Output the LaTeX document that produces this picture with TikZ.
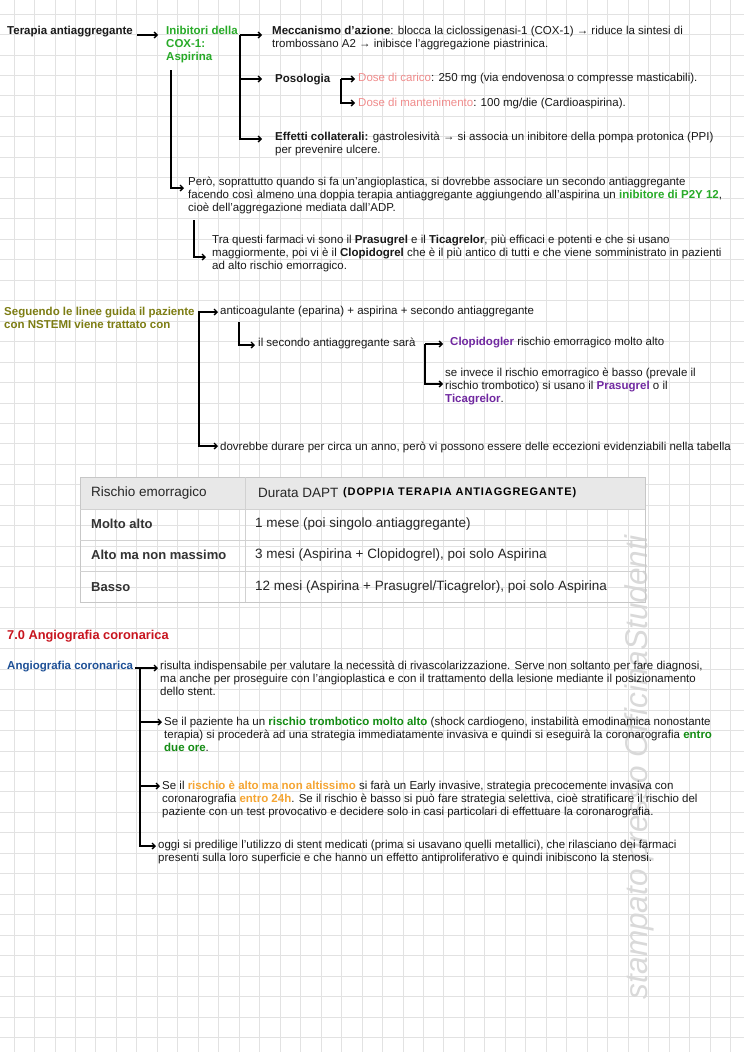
\documentclass[tikz,border=0pt]{standalone}
\usepackage{fontspec}
\setmainfont{Liberation Sans}
\usetikzlibrary{arrows.meta,positioning,calc}

\definecolor{verde}{RGB}{40,170,40}
\definecolor{verdescuro}{RGB}{20,140,20}
\definecolor{rosa}{RGB}{240,140,140}
\definecolor{viola}{RGB}{112,40,160}
\definecolor{oliva}{RGB}{125,125,20}
\definecolor{rosso}{RGB}{200,20,30}
\definecolor{blu}{RGB}{30,80,150}
\definecolor{arancio}{RGB}{245,165,50}
\definecolor{griglia}{RGB}{226,226,226}

\begin{document}
\begin{tikzpicture}[
    x=1pt, y=-1pt,
    font=\fontsize{11.5}{13}\selectfont,
    >={Straight Barb[length=3pt,width=6pt]},
    txt/.style={anchor=north west, inner sep=0pt, align=left, text=black!90},
    tit/.style={txt, font=\fontsize{11.5}{13}\selectfont\bfseries},
    arr/.style={line width=1.3pt, ->},
    linea/.style={line width=1.3pt},
    cella/.style={anchor=west, inner sep=0pt, font=\fontsize{13.5}{16}\selectfont, text=black!85},
    rischio/.style={cella, font=\fontsize{13}{16}\selectfont\bfseries, text=black!80}
]
\useasboundingbox (0,0) rectangle (744,1052);
\fill[white] (0,0) rectangle (744,1052);
% quaderno a quadretti
\foreach \i in {0,...,35}
    \draw[griglia, line width=0.8pt] ({14+20.47*\i},0) -- ({14+20.47*\i},1052);
\foreach \j in {0,...,50}
    \draw[griglia, line width=0.8pt] (0,{14+20.47*\j}) -- (744,{14+20.47*\j});

\node[rotate=90, text=black!15, font=\fontsize{31.5}{32}\selectfont\itshape] (filigrana) at (639,767) {stampato presso OfficinaStudenti};

% terapia antiaggregante
\node[tit] (terap) at (7,25) {\strut Terapia antiaggregante};
\node[tit, text=verde] (inib) at (166,25) {\strut Inibitori della\\ COX-1:\\ Aspirina};
\node[txt] (mecc) at (272,25) {\strut\textbf{Meccanismo d’azione}: blocca la ciclossigenasi-1 (COX-1) → riduce la sintesi di\\ trombossano A2 → inibisce l’aggregazione piastrinica.};
\node[tit] (poso) at (275,73) {\strut Posologia};
\node[txt] (carico) at (358,72) {\strut\textcolor{rosa}{Dose di carico}: 250 mg (via endovenosa o compresse masticabili).};
\node[txt] (mant) at (358,97) {\strut\textcolor{rosa}{Dose di mantenimento}: 100 mg/die (Cardioaspirina).};
\node[txt] (eff) at (275,131) {\strut\textbf{Effetti collaterali:} gastrolesività → si associa un inibitore della pompa protonica (PPI)\\ per prevenire ulcere.};
\node[txt] (pero) at (188,176) {\strut Però, soprattutto quando si fa un’angioplastica, si dovrebbe associare un secondo antiaggregante\\ facendo così almeno una doppia terapia antiaggregante aggiungendo all’aspirina un \textcolor{verde}{\textbf{inibitore di P2Y 12}},\\ cioè dell’aggregazione mediata dall’ADP.};
\node[txt] (tra) at (212,234) {\strut Tra questi farmaci vi sono il \textbf{Prasugrel} e il \textbf{Ticagrelor}, più efficaci e potenti e che si usano\\ maggiormente, poi vi è il \textbf{Clopidogrel} che è il più antico di tutti e che viene somministrato in pazienti\\ ad alto rischio emorragico.};

\coordinate (sp1) at (240,35);
\coordinate (sp2) at (341,79);
\coordinate (sp3) at (171,70);
\coordinate (sp4) at (194,220);
\coordinate (pmecc) at ($(mecc.north west)+(-10,10)$);
\coordinate (pposo) at ($(poso.north west)+(-13,6)$);
\coordinate (peff) at ($(eff.north west)+(-13,8)$);
\coordinate (pcar) at ($(carico.north west)+(-3,7)$);
\coordinate (pman) at ($(mant.north west)+(-3,6)$);
\coordinate (pper) at ($(pero.north west)+(-4,12)$);
\coordinate (ptra) at ($(tra.north west)+(-6,23)$);

\draw[arr] ($(terap.north east)+(4,10)$) -- ($(inib.north west)+(-8,10)$);
\draw[arr] (sp1) -- (pmecc);
\draw[arr] (sp1) |- (pposo);
\draw[arr] (sp1) |- (peff);
\draw[arr] (sp2) -- (pcar);
\draw[arr] (sp2) |- (pman);
\draw[arr] (sp3) |- (pper);
\draw[arr] (sp4) |- (ptra);

% NSTEMI
\node[tit, text=oliva] (segu) at (4,306) {\strut Seguendo le linee guida il paziente\\ con NSTEMI viene trattato con};
\node[txt] (anti) at (220,305) {\strut anticoagulante (eparina) + aspirina + secondo antiaggregante};
\node[txt] (sec) at (258,337) {\strut il secondo antiaggregante sarà};
\node[txt] (clop) at (450,336) {\strut\textcolor{viola}{\textbf{Clopidogler}} rischio emorragico molto alto};
\node[txt] (invece) at (445,367) {\strut se invece il rischio emorragico è basso (prevale il\\ rischio trombotico) si usano il \textcolor{viola}{\textbf{Prasugrel}} o il\\ \textcolor{viola}{\textbf{Ticagrelor}}.};
\node[txt] (dovr) at (220,441) {\strut dovrebbe durare per circa un anno, però vi possono essere delle eccezioni evidenziabili nella tabella};

\coordinate (sp5) at (199,312);
\coordinate (sp6) at (239,322);
\coordinate (sp7) at (425,344);
\coordinate (pant) at ($(anti.north west)+(-2,7)$);
\coordinate (pdov) at ($(dovr.north west)+(-2,5)$);
\coordinate (psec) at ($(sec.north west)+(-3,8)$);
\coordinate (pclo) at ($(clop.north west)+(-7,8)$);
\coordinate (pinv) at ($(invece.north west)+(-2,17)$);

\draw[linea] ($(segu.north east)+(3,6)$) -- (sp5);
\draw[arr] (sp5) -- (pant);
\draw[arr] (sp5) |- (pdov);
\draw[arr] (sp6) |- (psec);
\draw[arr] (sp7) -- (pclo);
\draw[arr] (sp7) |- (pinv);

% tabella DAPT
\fill[black!9] (80,477) rectangle (645,509);
\draw[black!22, line width=0.8pt] (80,477) rectangle (645,602);
\foreach \y in {509,540,571}
    \draw[black!18, line width=0.8pt] (80,\y) -- (645,\y);
\draw[black!18, line width=0.8pt] (245,477) -- (245,602);

\node[cella] (h1) at (91,493) {Rischio emorragico};
\node[cella] (h2) at (258,493) {Durata DAPT};
\node[anchor=west, inner sep=0pt, font=\fontsize{11}{13}\selectfont\bfseries\addfontfeature{LetterSpace=8}, text=black] (hw) at (343,493) {(DOPPIA TERAPIA ANTIAGGREGANTE)};
\node[rischio] (r1) at (91,524) {Molto alto};
\node[cella] (d1) at (255,524) {1 mese (poi singolo antiaggregante)};
\node[rischio] (r2) at (91,555) {Alto ma non massimo};
\node[cella] (d2) at (255,555) {3 mesi (Aspirina + Clopidogrel), poi solo Aspirina};
\node[rischio] (r3) at (91,587) {Basso};
\node[cella] (d3) at (255,587) {12 mesi (Aspirina + Prasugrel/Ticagrelor), poi solo Aspirina};

% angiografia
\node[txt, font=\fontsize{12.8}{14}\selectfont\bfseries, text=rosso] (h7) at (7,629) {\strut 7.0 Angiografia coronarica};
\node[tit, text=blu] (angio) at (7,660) {\strut Angiografia coronarica};
\node[txt] (risulta) at (160,660) {\strut risulta indispensabile per valutare la necessità di rivascolarizzazione. Serve non soltanto per fare diagnosi,\\ ma anche per proseguire con l’angioplastica e con il trattamento della lesione mediante il posizionamento\\ dello stent.};
\node[txt] (paz) at (164,716) {\strut Se il paziente ha un \textcolor{verdescuro}{\textbf{rischio trombotico molto alto}} (shock cardiogeno, instabilità emodinamica nonostante\\ terapia) si procederà ad una strategia immediatamente invasiva e quindi si eseguirà la coronarografia \textcolor{verdescuro}{\textbf{entro}}\\ \textcolor{verdescuro}{\textbf{due ore}}.};
\node[txt] (alto) at (162,780) {\strut Se il \textcolor{arancio}{\textbf{rischio è alto ma non altissimo}} si farà un Early invasive, strategia precocemente invasiva con\\ coronarografia \textcolor{arancio}{\textbf{entro 24h}}. Se il rischio è basso si può fare strategia selettiva, cioè stratificare il rischio del\\ paziente con un test provocativo e decidere solo in casi particolari di effettuare la coronarografia.};
\node[txt] (oggi) at (158,839) {\strut oggi si predilige l’utilizzo di stent medicati (prima si usavano quelli metallici), che rilasciano dei farmaci\\ presenti sulla loro superficie e che hanno un effetto antiproliferativo e quindi inibiscono la stenosi.};

\coordinate (sp8) at (140,668);
\coordinate (pris) at ($(risulta.north west)+(-2,8)$);
\coordinate (ppaz) at ($(paz.north west)+(-2,6)$);
\coordinate (palt) at ($(alto.north west)+(-2,6)$);
\coordinate (pogg) at ($(oggi.north west)+(-2,7)$);

\draw[linea] ($(angio.north east)+(2,8)$) -- (sp8);
\draw[arr] (sp8) -- (pris);
\draw[arr] (sp8) |- (ppaz);
\draw[arr] (sp8) |- (palt);
\draw[arr] (sp8) |- (pogg);
\end{tikzpicture}
\end{document}
